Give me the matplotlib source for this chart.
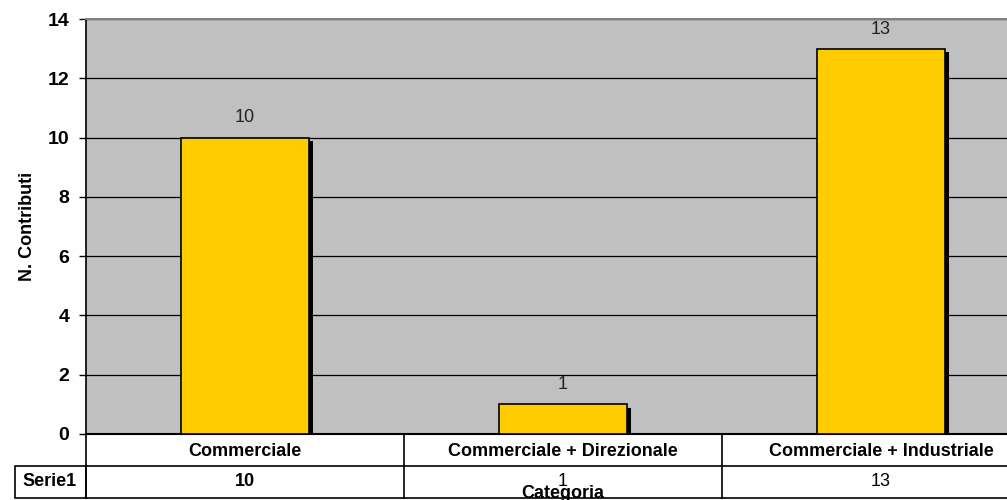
import numpy as np
import matplotlib
matplotlib.use("Agg")
from matplotlib import pyplot as plt
from matplotlib import transforms

categories = ["Commerciale", "Commerciale + Direzionale", "Commerciale + Industriale"]
values = [10, 1, 13]
series_name = "Serie1"
y_ticks = [0, 2, 4, 6, 8, 10, 12, 14]

plt.rcParams['font.family'] = ['Liberation Sans', 'DejaVu Sans']

W, H = 1007, 500
fig = plt.figure(figsize=(W / 100, H / 100), dpi=100)
fig.patch.set_facecolor("white")

# plot area in pixels: x from 86, y from 19 (top) to 434 (bottom)
left, top, bottom = 86, 19, 434
col_w = 318
ax = fig.add_axes([left / W, (H - bottom) / H, 3 * col_w / W, (bottom - top) / H])
ax.set_facecolor("#C0C0C0")

x = np.arange(len(categories))
bw = 0.4
# shadow
ax.bar(x + 0.013, values, bw, bottom=-0.13, color="black", zorder=2)
ax.bar(x, values, bw, color="#FFCC00", edgecolor="black", linewidth=1.2, zorder=3)
for xi, v in zip(x, values):
    ax.annotate(str(v), (xi, v), xytext=(0, 8), textcoords="offset points",
                ha="center", va="bottom", fontsize=13, color="#222222")

ax.set_xlim(-0.5, 2.5)
ax.set_ylim(0, 14)
ax.set_yticks(y_ticks)
ax.set_yticklabels([str(t) for t in y_ticks], fontsize=14, fontweight="bold")
ax.set_xticks([])
ax.yaxis.grid(True, color="black", linewidth=0.9)
ax.set_axisbelow(True)
ax.tick_params(axis="y", length=5, width=1, pad=7)
ax.spines["top"].set_color("#808080")
ax.spines["top"].set_linewidth(1.5)
ax.spines["right"].set_visible(False)
ax.spines["left"].set_linewidth(1.2)
ax.spines["bottom"].set_linewidth(1.5)
ax.set_ylabel("N. Contributi", fontsize=13, fontweight="bold", labelpad=8)

# data table under the axis: x in data units, y in figure pixels from top
px = transforms.Affine2D().scale(1, -1).translate(0, H)
trans = transforms.blended_transform_factory(ax.transData, px)
row1, row2, row3 = 434, 466, 498
for b in [-0.5, 0.5, 1.5, 2.5]:
    ax.plot([b, b], [row1, row3], color="black", lw=1.2, transform=trans, clip_on=False)
ax.plot([-0.5, 2.5], [row2, row2], color="black", lw=1.2, transform=trans, clip_on=False)
ax.plot([-0.5, 2.5], [row3, row3], color="black", lw=1.2, transform=trans, clip_on=False)
for xi, c, v in zip(x, categories, values):
    ax.text(xi, (row1 + row2) / 2 + 1, c, transform=trans, ha="center", va="center",
            fontsize=13, fontweight="bold", clip_on=False)
    ax.text(xi, (row2 + row3) / 2, str(v), transform=trans, ha="center", va="center",
            fontsize=13, fontweight="bold" if xi == 0 else "normal", clip_on=False)

# legend key cell "Serie1"
fig.add_artist(plt.Rectangle((15 / W, (H - row3) / H), (left - 15) / W, (row3 - row2) / H,
                             fill=False, edgecolor="black", lw=1.2, transform=fig.transFigure))
fig.text(50 / W, 1 - (row2 + row3) / 2 / H, series_name, ha="center", va="center",
         fontsize=13, fontweight="bold")

# x axis title, partly hidden at the bottom as in the original
fig.text(563 / W, 1 - 493 / H, "Categoria", ha="center", va="center",
         fontsize=13, fontweight="bold")

fig.savefig("out.png", dpi=100)
